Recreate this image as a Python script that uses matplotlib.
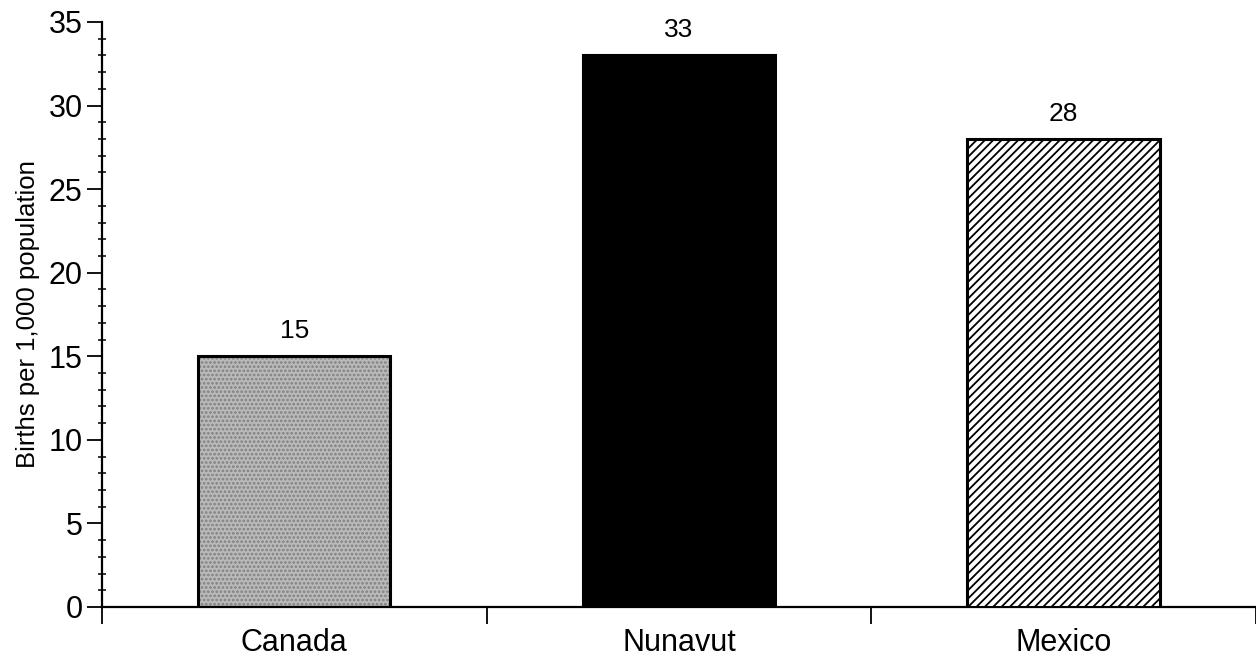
import numpy as np
import matplotlib.pyplot as plt
from matplotlib.ticker import MultipleLocator, FixedLocator

plt.rcParams['font.family'] = ['Liberation Sans', 'DejaVu Sans']
plt.rcParams['hatch.linewidth'] = 1.3

regiones = ['Canada', 'Nunavut', 'Mexico']
tasas = [15, 33, 28]

x = np.arange(len(regiones))
ancho = 0.5

fig = plt.figure(figsize=(12.56, 6.62), dpi=100)
ax = fig.add_axes([0.0812, 0.0831, 0.9188, 0.8837])

# Canada: gris punteado
ax.bar(x[0], tasas[0], ancho, color='#bababa', edgecolor='#808080',
       hatch='....', linewidth=0, zorder=2)
ax.bar(x[0], tasas[0], ancho, facecolor='none', edgecolor='black',
       linewidth=2.2, zorder=3)

# Nunavut: negro
ax.bar(x[1], tasas[1], ancho, color='black', edgecolor='black',
       linewidth=2.2, zorder=3)

# Mexico: rayado diagonal
ax.bar(x[2], tasas[2], ancho, color='white', edgecolor='black',
       hatch='////', linewidth=2.2, zorder=3)

for xi, v in zip(x, tasas):
    ax.text(xi, v + 0.8, str(v), ha='center', va='bottom', fontsize=19)

ax.set_xlim(-0.5, 2.5)
ax.set_ylim(0, 35)

ax.spines['top'].set_visible(False)
ax.spines['right'].set_visible(False)
ax.spines['left'].set_linewidth(1.6)
ax.spines['bottom'].set_linewidth(1.6)

ax.yaxis.set_major_locator(MultipleLocator(5))
ax.yaxis.set_minor_locator(MultipleLocator(1))
ax.tick_params(axis='y', which='major', direction='out', length=11,
               width=1.3, labelsize=22, pad=3)
ax.tick_params(axis='y', which='minor', direction='inout', length=6,
               width=1.1)

# separadores entre categorias
ax.xaxis.set_major_locator(FixedLocator([-0.5, 0.5, 1.5, 2.5]))
ax.xaxis.set_minor_locator(FixedLocator(x))
ax.set_xticklabels([], minor=False)
ax.set_xticklabels(regiones, minor=True)
ax.tick_params(axis='x', which='major', direction='out', length=12,
               width=1.3)
ax.tick_params(axis='x', which='minor', length=0, labelsize=22, pad=15)

ax.set_ylabel('Births per 1,000 population', fontsize=18.5, labelpad=6)

fig.savefig('out.png', dpi=100)
